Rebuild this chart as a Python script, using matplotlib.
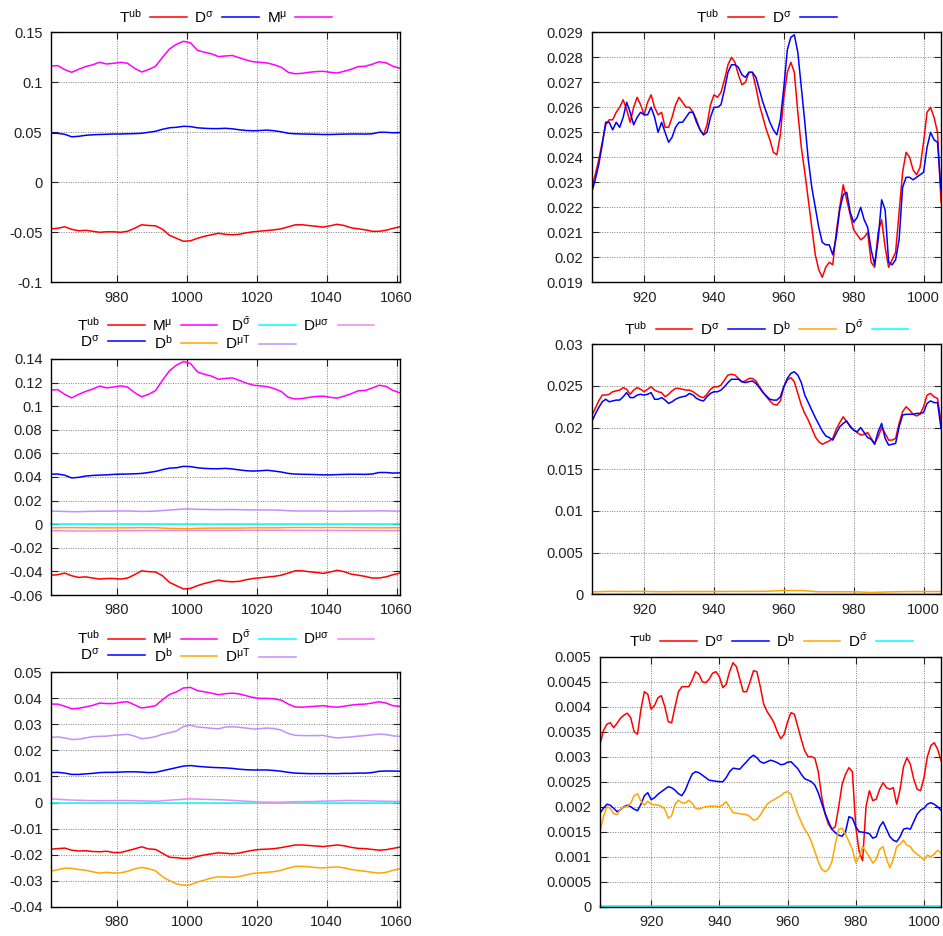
import matplotlib
matplotlib.use('Agg')
import matplotlib.pyplot as plt
from matplotlib.ticker import FuncFormatter

plt.rcParams['font.family'] = ['Liberation Sans', 'DejaVu Sans']
plt.rcParams['mathtext.default'] = 'regular'

# ---------------- data ----------------
X_LEFT = list(range(961, 1062, 2))          # 51 samples
X_LEFT_C = list(range(961, 1062, 5))        # 21 coarse samples
X_RIGHT = list(range(905, 1006))            # 101 samples
X_RIGHT_C = list(range(905, 1006, 5))       # 21 coarse samples

LABELS = {
    'T': r'T$^{ub}$', 'D': r'D$^{σ}$', 'M': r'M$^{μ}$', 'Db': r'D$^{b}$',
    'Dsb': r'D$^{\bar{σ}}$', 'DmT': r'D$^{μT}$', 'Dms': r'D$^{μσ}$',
}
COLORS = {
    'T': '#ff0000', 'D': '#0000ff', 'M': '#ff00ff', 'Db': '#ffa500',
    'Dsb': '#00ffff', 'DmT': '#c090ff', 'Dms': '#ee88ee',
}

# top-left
TL_M = [0.1163, 0.1167, 0.1127, 0.1100, 0.1130, 0.1157, 0.1175, 0.1200, 0.1183, 0.1190,
        0.1200, 0.1190, 0.1140, 0.1103, 0.1127, 0.1160, 0.1250, 0.1333, 0.1380, 0.1410,
        0.1395, 0.1320, 0.1300, 0.1285, 0.1257, 0.1263, 0.1268, 0.1245, 0.1223, 0.1205,
        0.1200, 0.1193, 0.1175, 0.1150, 0.1100, 0.1085, 0.1090, 0.1100, 0.1107, 0.1110,
        0.1100, 0.1093, 0.1110, 0.1130, 0.1157, 0.1160, 0.1180, 0.1205, 0.1195, 0.1160,
        0.1140]
TL_D = [0.0490, 0.0490, 0.0480, 0.0455, 0.0460, 0.0470, 0.0475, 0.0478, 0.0480, 0.0483,
        0.0483, 0.0485, 0.0487, 0.0490, 0.0500, 0.0510, 0.0530, 0.0545, 0.0550, 0.0560,
        0.0557, 0.0545, 0.0540, 0.0537, 0.0537, 0.0540, 0.0535, 0.0525, 0.0518, 0.0515,
        0.0518, 0.0522, 0.0515, 0.0505, 0.0490, 0.0485, 0.0483, 0.0482, 0.0480, 0.0478,
        0.0478, 0.0480, 0.0482, 0.0483, 0.0483, 0.0482, 0.0485, 0.0500, 0.0500, 0.0495,
        0.0497]
TL_T = [-0.0465, -0.0460, -0.0445, -0.0470, -0.0485, -0.0480, -0.0490, -0.0500, -0.0495, -0.0495,
        -0.0500, -0.0490, -0.0460, -0.0425, -0.0432, -0.0435, -0.0470, -0.0530, -0.0560, -0.0590,
        -0.0585, -0.0560, -0.0540, -0.0525, -0.0510, -0.0520, -0.0525, -0.0520, -0.0505, -0.0495,
        -0.0488, -0.0482, -0.0475, -0.0465, -0.0445, -0.0425, -0.0425, -0.0433, -0.0440, -0.0448,
        -0.0435, -0.0420, -0.0432, -0.0455, -0.0465, -0.0475, -0.0490, -0.0490, -0.0480, -0.0460,
        -0.0445]

# middle-left
ML_M = [0.1136, 0.1140, 0.1100, 0.1070, 0.1100, 0.1125, 0.1145, 0.1170, 0.1155, 0.1162,
        0.1172, 0.1162, 0.1115, 0.1080, 0.1100, 0.1132, 0.1220, 0.1300, 0.1348, 0.1378,
        0.1362, 0.1290, 0.1270, 0.1255, 0.1228, 0.1235, 0.1240, 0.1218, 0.1195, 0.1178,
        0.1172, 0.1165, 0.1148, 0.1124, 0.1075, 0.1060, 0.1065, 0.1075, 0.1082, 0.1085,
        0.1075, 0.1068, 0.1085, 0.1105, 0.1130, 0.1133, 0.1153, 0.1177, 0.1168, 0.1133,
        0.1113]
ML_D = [0.0424, 0.0425, 0.0415, 0.0392, 0.0397, 0.0408, 0.0413, 0.0416, 0.0418, 0.0422,
        0.0424, 0.0425, 0.0427, 0.0430, 0.0438, 0.0447, 0.0462, 0.0475, 0.0478, 0.0490,
        0.0488, 0.0478, 0.0473, 0.0470, 0.0470, 0.0473, 0.0468, 0.0460, 0.0453, 0.0450,
        0.0453, 0.0457, 0.0450, 0.0442, 0.0430, 0.0425, 0.0423, 0.0422, 0.0420, 0.0418,
        0.0418, 0.0420, 0.0422, 0.0423, 0.0423, 0.0422, 0.0425, 0.0438, 0.0438, 0.0433,
        0.0435]
ML_T = [-0.0432, -0.0428, -0.0414, -0.0437, -0.0451, -0.0446, -0.0456, -0.0465, -0.0460, -0.0460,
        -0.0465, -0.0456, -0.0428, -0.0395, -0.0402, -0.0405, -0.0437, -0.0493, -0.0521, -0.0549,
        -0.0544, -0.0521, -0.0502, -0.0488, -0.0474, -0.0484, -0.0488, -0.0484, -0.0470, -0.0460,
        -0.0454, -0.0448, -0.0442, -0.0432, -0.0414, -0.0395, -0.0395, -0.0403, -0.0409, -0.0417,
        -0.0405, -0.0391, -0.0402, -0.0423, -0.0432, -0.0442, -0.0456, -0.0456, -0.0446, -0.0428,
        -0.0414]
ML_DMT = [0.0110, 0.0110, 0.0108, 0.0106, 0.0106, 0.0108, 0.0109, 0.0110, 0.0110, 0.0111,
          0.0112, 0.0112, 0.0110, 0.0108, 0.0109, 0.0111, 0.0116, 0.0120, 0.0124, 0.0128,
          0.0129, 0.0126, 0.0125, 0.0124, 0.0123, 0.0124, 0.0124, 0.0123, 0.0122, 0.0121,
          0.0121, 0.0121, 0.0120, 0.0118, 0.0114, 0.0112, 0.0112, 0.0112, 0.0112, 0.0112,
          0.0110, 0.0109, 0.0110, 0.0110, 0.0111, 0.0112, 0.0112, 0.0113, 0.0113, 0.0111,
          0.0111]
ML_DB = [-0.0030, -0.0030, -0.0029, -0.0029, -0.0030, -0.0030, -0.0031, -0.0031, -0.0031, -0.0031,
         -0.0031, -0.0031, -0.0030, -0.0029, -0.0030, -0.0030, -0.0033, -0.0035, -0.0036, -0.0037,
         -0.0037, -0.0035, -0.0034, -0.0033, -0.0033, -0.0033, -0.0033, -0.0033, -0.0032, -0.0031,
         -0.0031, -0.0031, -0.0031, -0.0030, -0.0029, -0.0028, -0.0028, -0.0028, -0.0029, -0.0029,
         -0.0028, -0.0028, -0.0029, -0.0029, -0.0030, -0.0030, -0.0031, -0.0031, -0.0031, -0.0030,
         -0.0030]
ML_DMS = [-0.0054, -0.0057, -0.0058, -0.0057, -0.0056, -0.0055, -0.0055, -0.0054, -0.0053, -0.0053,
          -0.0053, -0.0052, -0.0052, -0.0052, -0.0053, -0.0053, -0.0053, -0.0054, -0.0054, -0.0055,
          -0.0055]
ML_DSB = [0.0, 0.0, 0.0, 0.0, 0.0, 0.0, 0.0, 0.0, 0.0, 0.0,
          0.0, 0.0, 0.0, 0.0, 0.0, 0.0, 0.0, 0.0, 0.0, 0.0, 0.0]

# bottom-left
BL_M = [0.0378, 0.0378, 0.0370, 0.0360, 0.0362, 0.0367, 0.0373, 0.0382, 0.0380, 0.0380,
        0.0385, 0.0387, 0.0375, 0.0363, 0.0367, 0.0372, 0.0395, 0.0415, 0.0425, 0.0440,
        0.0442, 0.0430, 0.0425, 0.0420, 0.0414, 0.0418, 0.0420, 0.0417, 0.0410, 0.0403,
        0.0400, 0.0400, 0.0398, 0.0393, 0.0378, 0.0367, 0.0366, 0.0368, 0.0370, 0.0372,
        0.0368, 0.0366, 0.0370, 0.0374, 0.0377, 0.0378, 0.0382, 0.0387, 0.0382, 0.0372,
        0.0369]
BL_DMT = [0.0250, 0.0252, 0.0248, 0.0242, 0.0243, 0.0248, 0.0253, 0.0254, 0.0255, 0.0258,
          0.0260, 0.0262, 0.0255, 0.0245, 0.0248, 0.0253, 0.0262, 0.0268, 0.0275, 0.0292,
          0.0297, 0.0290, 0.0288, 0.0285, 0.0283, 0.0290, 0.0291, 0.0289, 0.0286, 0.0282,
          0.0284, 0.0286, 0.0284, 0.0278, 0.0265, 0.0258, 0.0257, 0.0257, 0.0257, 0.0258,
          0.0252, 0.0248, 0.0250, 0.0252, 0.0255, 0.0257, 0.0260, 0.0263, 0.0261, 0.0256,
          0.0254]
BL_D = [0.0115, 0.0116, 0.0113, 0.0108, 0.0108, 0.0110, 0.0112, 0.0115, 0.0116, 0.0116,
        0.0117, 0.0118, 0.0118, 0.0117, 0.0115, 0.0116, 0.0122, 0.0128, 0.0134, 0.0140,
        0.0142, 0.0139, 0.0137, 0.0135, 0.0134, 0.0133, 0.0131, 0.0128, 0.0126, 0.0125,
        0.0125, 0.0125, 0.0123, 0.0120, 0.0116, 0.0113, 0.0112, 0.0111, 0.0111, 0.0111,
        0.0111, 0.0111, 0.0112, 0.0112, 0.0113, 0.0113, 0.0115, 0.0120, 0.0121, 0.0121,
        0.0120]
BL_T = [-0.0179, -0.0177, -0.0175, -0.0183, -0.0186, -0.0185, -0.0188, -0.0189, -0.0187, -0.0192,
        -0.0192, -0.0185, -0.0178, -0.0170, -0.0178, -0.0180, -0.0195, -0.0210, -0.0212, -0.0215,
        -0.0214, -0.0207, -0.0201, -0.0197, -0.0193, -0.0195, -0.0197, -0.0194, -0.0188, -0.0183,
        -0.0180, -0.0179, -0.0177, -0.0173, -0.0168, -0.0163, -0.0163, -0.0165, -0.0167, -0.0169,
        -0.0166, -0.0163, -0.0166, -0.0172, -0.0176, -0.0177, -0.0180, -0.0183, -0.0181, -0.0176,
        -0.0171]
BL_DB = [-0.0263, -0.0258, -0.0252, -0.0253, -0.0257, -0.0260, -0.0266, -0.0271, -0.0268, -0.0271,
         -0.0270, -0.0264, -0.0255, -0.0249, -0.0254, -0.0262, -0.0285, -0.0300, -0.0312, -0.0318,
         -0.0316, -0.0305, -0.0298, -0.0290, -0.0285, -0.0286, -0.0287, -0.0284, -0.0278, -0.0272,
         -0.0270, -0.0268, -0.0265, -0.0260, -0.0252, -0.0245, -0.0245, -0.0247, -0.0250, -0.0251,
         -0.0249, -0.0247, -0.0251, -0.0257, -0.0261, -0.0264, -0.0268, -0.0271, -0.0268, -0.0260,
         -0.0254]
BL_DMS = [0.0014, 0.0010, 0.0008, 0.0007, 0.0008, 0.0007, 0.0005, 0.0010, 0.0014, 0.0012,
          0.0010, 0.0006, 0.0002, 0.0001, 0.0003, 0.0004, 0.0006, 0.0008, 0.0007, 0.0005,
          0.0004]
BL_DSB = [0.0, 0.0, 0.0, 0.0, 0.0, 0.0, 0.0, 0.0, 0.0, 0.0,
          0.0, 0.0, 0.0, 0.0, 0.0, 0.0, 0.0, 0.0, 0.0, 0.0, 0.0]

# top-right
TR_T = [0.0228, 0.0233, 0.0239, 0.0246, 0.0253, 0.0255, 0.0255, 0.0258, 0.0260, 0.0263,
        0.0259, 0.0254, 0.0260, 0.0264, 0.0261, 0.0257, 0.0262, 0.0265, 0.0260, 0.0257,
        0.0258, 0.0252, 0.0252, 0.0256, 0.0261, 0.0264, 0.0262, 0.0260, 0.0260, 0.0258,
        0.0255, 0.0251, 0.0249, 0.0253, 0.0261, 0.0265, 0.0264, 0.0266, 0.0271, 0.0277,
        0.0280, 0.0278, 0.0273, 0.0269, 0.0270, 0.0274, 0.0274, 0.0268, 0.0261, 0.0256,
        0.0251, 0.0247, 0.0242, 0.0241, 0.0249, 0.0264, 0.0274, 0.0278, 0.0274, 0.0258,
        0.0244, 0.0234, 0.0223, 0.0212, 0.0201, 0.0195, 0.0192, 0.0196, 0.0198, 0.0197,
        0.0210, 0.0220, 0.0229, 0.0223, 0.0217, 0.0211, 0.0209, 0.0207, 0.0208, 0.0210,
        0.0198, 0.0196, 0.0210, 0.0215, 0.0204, 0.0196, 0.0199, 0.0202, 0.0218, 0.0234,
        0.0242, 0.0240, 0.0235, 0.0233, 0.0236, 0.0246, 0.0258, 0.0260, 0.0256, 0.0250,
        0.0222]
TR_D = [0.0226, 0.0231, 0.0237, 0.0245, 0.0254, 0.0254, 0.0251, 0.0254, 0.0252, 0.0256,
        0.0262, 0.0258, 0.0253, 0.0256, 0.0258, 0.0257, 0.0257, 0.0260, 0.0256, 0.0250,
        0.0254, 0.0250, 0.0246, 0.0248, 0.0252, 0.0254, 0.0254, 0.0256, 0.0258, 0.0258,
        0.0254, 0.0251, 0.0249, 0.0250, 0.0256, 0.0260, 0.0260, 0.0261, 0.0267, 0.0274,
        0.0277, 0.0277, 0.0276, 0.0273, 0.0272, 0.0274, 0.0274, 0.0272, 0.0267, 0.0262,
        0.0258, 0.0254, 0.0251, 0.0249, 0.0255, 0.0268, 0.0283, 0.0288, 0.0289, 0.0282,
        0.0268, 0.0254, 0.0239, 0.0228, 0.0220, 0.0212, 0.0206, 0.0205, 0.0205, 0.0201,
        0.0208, 0.0219, 0.0225, 0.0226, 0.0218, 0.0214, 0.0216, 0.0220, 0.0215, 0.0212,
        0.0203, 0.0197, 0.0207, 0.0223, 0.0219, 0.0198, 0.0197, 0.0199, 0.0207, 0.0228,
        0.0232, 0.0232, 0.0231, 0.0232, 0.0233, 0.0234, 0.0244, 0.0250, 0.0247, 0.0246,
        0.0227]

# middle-right
MR_T = [0.0214, 0.0223, 0.0232, 0.0239, 0.0239, 0.0240, 0.0243, 0.0244, 0.0245, 0.0248,
        0.0246, 0.0240, 0.0245, 0.0248, 0.0246, 0.0243, 0.0246, 0.0249, 0.0245, 0.0243,
        0.0242, 0.0237, 0.0240, 0.0244, 0.0247, 0.0247, 0.0246, 0.0245, 0.0245, 0.0243,
        0.0240, 0.0237, 0.0236, 0.0240, 0.0246, 0.0249, 0.0249, 0.0251, 0.0257, 0.0263,
        0.0264, 0.0263, 0.0259, 0.0255, 0.0256, 0.0259, 0.0259, 0.0256, 0.0249, 0.0243,
        0.0237, 0.0232, 0.0228, 0.0227, 0.0232, 0.0249, 0.0257, 0.0260, 0.0255, 0.0241,
        0.0227, 0.0217, 0.0209, 0.0199, 0.0189, 0.0183, 0.0180, 0.0182, 0.0184, 0.0187,
        0.0198, 0.0206, 0.0213, 0.0207, 0.0202, 0.0197, 0.0194, 0.0191, 0.0192, 0.0194,
        0.0187, 0.0181, 0.0189, 0.0200, 0.0193, 0.0185, 0.0185, 0.0187, 0.0205, 0.0219,
        0.0225, 0.0221, 0.0216, 0.0214, 0.0216, 0.0225, 0.0239, 0.0241, 0.0237, 0.0235,
        0.0207]
MR_D = [0.0207, 0.0216, 0.0224, 0.0231, 0.0234, 0.0231, 0.0232, 0.0233, 0.0233, 0.0237,
        0.0242, 0.0236, 0.0236, 0.0239, 0.0240, 0.0239, 0.0240, 0.0242, 0.0234, 0.0234,
        0.0236, 0.0233, 0.0229, 0.0231, 0.0234, 0.0236, 0.0237, 0.0238, 0.0241, 0.0239,
        0.0235, 0.0233, 0.0232, 0.0237, 0.0241, 0.0243, 0.0243, 0.0245, 0.0249, 0.0254,
        0.0258, 0.0258, 0.0258, 0.0255, 0.0254, 0.0255, 0.0256, 0.0253, 0.0248, 0.0242,
        0.0238, 0.0234, 0.0233, 0.0233, 0.0237, 0.0249, 0.0259, 0.0265, 0.0267, 0.0263,
        0.0254, 0.0239, 0.0230, 0.0221, 0.0212, 0.0204, 0.0196, 0.0190, 0.0188, 0.0185,
        0.0193, 0.0201, 0.0205, 0.0208, 0.0201, 0.0197, 0.0195, 0.0200, 0.0194, 0.0188,
        0.0186, 0.0180, 0.0195, 0.0205, 0.0187, 0.0179, 0.0180, 0.0181, 0.0201, 0.0215,
        0.0216, 0.0216, 0.0216, 0.0217, 0.0217, 0.0218, 0.0229, 0.0232, 0.0230, 0.0230,
        0.0199]
MR_DB = [0.00028, 0.00035, 0.00033, 0.00035, 0.00030, 0.00033, 0.00033, 0.00033, 0.00034, 0.00034,
         0.00036, 0.00045, 0.00045, 0.00030, 0.00030, 0.00030, 0.00022, 0.00028, 0.00032, 0.00033,
         0.00032]
MR_DSB = [0.00002, 0.00002, 0.00002, 0.00002, 0.00002, 0.00002, 0.00002, 0.00002, 0.00002, 0.00002,
          0.00002, 0.00002, 0.00002, 0.00002, 0.00002, 0.00002, 0.00002, 0.00002, 0.00002, 0.00002,
          0.00002]

# bottom-right
BR_T = [0.00325, 0.00352, 0.00365, 0.00368, 0.00358, 0.00367, 0.00377, 0.00383, 0.00387, 0.00378,
        0.00350, 0.00345, 0.00395, 0.00430, 0.00425, 0.00395, 0.00403, 0.00418, 0.00422, 0.00400,
        0.00370, 0.00368, 0.00400, 0.00430, 0.00440, 0.00440, 0.00440, 0.00453, 0.00470, 0.00465,
        0.00450, 0.00448, 0.00455, 0.00467, 0.00470, 0.00460, 0.00438, 0.00445, 0.00470, 0.00488,
        0.00480, 0.00455, 0.00430, 0.00430, 0.00450, 0.00472, 0.00470, 0.00440, 0.00405, 0.00390,
        0.00380, 0.00368, 0.00350, 0.00336, 0.00345, 0.00370, 0.00388, 0.00385, 0.00360, 0.00335,
        0.00312, 0.00300, 0.00300, 0.00297, 0.00270, 0.00220, 0.00185, 0.00165, 0.00155, 0.00160,
        0.00200, 0.00245, 0.00265, 0.00278, 0.00270, 0.00160, 0.00110, 0.00092, 0.00200, 0.00232,
        0.00212, 0.00215, 0.00235, 0.00248, 0.00238, 0.00235, 0.00238, 0.00205, 0.00235, 0.00280,
        0.00298, 0.00285, 0.00255, 0.00235, 0.00232, 0.00258, 0.00300, 0.00322, 0.00328, 0.00315,
        0.00292]
BR_D = [0.00187, 0.00197, 0.00205, 0.00203, 0.00197, 0.00190, 0.00194, 0.00200, 0.00203, 0.00200,
        0.00195, 0.00192, 0.00205, 0.00222, 0.00228, 0.00214, 0.00218, 0.00225, 0.00230, 0.00235,
        0.00240, 0.00238, 0.00233, 0.00226, 0.00222, 0.00233, 0.00250, 0.00265, 0.00270, 0.00268,
        0.00263, 0.00258, 0.00253, 0.00252, 0.00251, 0.00250, 0.00250, 0.00258, 0.00270, 0.00277,
        0.00276, 0.00275, 0.00283, 0.00290, 0.00298, 0.00303, 0.00298, 0.00290, 0.00287, 0.00290,
        0.00293, 0.00291, 0.00288, 0.00284, 0.00285, 0.00289, 0.00290, 0.00283, 0.00276, 0.00265,
        0.00256, 0.00253, 0.00250, 0.00243, 0.00228, 0.00207, 0.00187, 0.00170, 0.00155, 0.00148,
        0.00143, 0.00141, 0.00150, 0.00180, 0.00177, 0.00160, 0.00150, 0.00149, 0.00148, 0.00146,
        0.00137, 0.00140, 0.00160, 0.00170, 0.00155, 0.00140, 0.00133, 0.00130, 0.00140, 0.00155,
        0.00157, 0.00155, 0.00170, 0.00185, 0.00193, 0.00197, 0.00205, 0.00208, 0.00205, 0.00200,
        0.00193]
BR_DB = [0.00150, 0.00180, 0.00200, 0.00197, 0.00186, 0.00184, 0.00195, 0.00199, 0.00201, 0.00207,
         0.00222, 0.00226, 0.00211, 0.00203, 0.00211, 0.00205, 0.00204, 0.00203, 0.00201, 0.00195,
         0.00177, 0.00182, 0.00205, 0.00213, 0.00208, 0.00207, 0.00213, 0.00207, 0.00197, 0.00195,
         0.00198, 0.00200, 0.00201, 0.00201, 0.00201, 0.00200, 0.00204, 0.00210, 0.00199, 0.00188,
         0.00187, 0.00186, 0.00185, 0.00184, 0.00180, 0.00173, 0.00175, 0.00183, 0.00195, 0.00205,
         0.00210, 0.00214, 0.00218, 0.00222, 0.00228, 0.00230, 0.00225, 0.00205, 0.00185, 0.00170,
         0.00155, 0.00145, 0.00130, 0.00110, 0.00090, 0.00075, 0.00070, 0.00075, 0.00090, 0.00125,
         0.00155, 0.00157, 0.00145, 0.00130, 0.00115, 0.00088, 0.00100, 0.00120, 0.00110, 0.00100,
         0.00087, 0.00095, 0.00115, 0.00120, 0.00095, 0.00078, 0.00095, 0.00120, 0.00125, 0.00133,
         0.00123, 0.00120, 0.00110, 0.00105, 0.00100, 0.00093, 0.00103, 0.00100, 0.00105, 0.00113,
         0.00107]
BR_DSB = [0.00002, 0.00002, 0.00002, 0.00002, 0.00002, 0.00002, 0.00002, 0.00002, 0.00002, 0.00002,
          0.00002, 0.00002, 0.00002, 0.00002, 0.00002, 0.00002, 0.00002, 0.00002, 0.00002, 0.00002,
          0.00002]

# ticks
LEFT_XTICKS = [980, 1000, 1020, 1040, 1060]
RIGHT_XTICKS = [920, 940, 960, 980, 1000]
TL_YTICKS = [-0.1, -0.05, 0, 0.05, 0.1, 0.15]
ML_YTICKS = [-0.06, -0.04, -0.02, 0, 0.02, 0.04, 0.06, 0.08, 0.1, 0.12, 0.14]
BL_YTICKS = [-0.04, -0.03, -0.02, -0.01, 0, 0.01, 0.02, 0.03, 0.04, 0.05]
TR_YTICKS = [0.019, 0.02, 0.021, 0.022, 0.023, 0.024, 0.025, 0.026, 0.027, 0.028, 0.029]
MR_YTICKS = [0, 0.005, 0.01, 0.015, 0.02, 0.025, 0.03]
BR_YTICKS = [0, 0.0005, 0.001, 0.0015, 0.002, 0.0025, 0.003, 0.0035, 0.004, 0.0045, 0.005]


# ---------------- drawing ----------------
def fmt(v, _pos):
    if abs(v) < 1e-12:
        return '0'
    return f'{round(v, 8):g}'


def setup(ax, xlim, xticks, yticks):
    ax.set_xlim(*xlim)
    ax.set_ylim(yticks[0], yticks[-1])
    ax.set_xticks(xticks)
    ax.set_yticks(yticks)
    ax.yaxis.set_major_formatter(FuncFormatter(fmt))
    ax.set_axisbelow(True)
    ax.grid(True, color='#808080', linestyle=(0, (1, 1.5)), linewidth=0.7)
    ax.tick_params(direction='in', top=True, right=True, length=5, width=0.8,
                   labelsize=10.5, pad=6, colors='#222222')
    for s in ax.spines.values():
        s.set_linewidth(1.0)


def draw(ax, series, order, ncol, lspacing=0.3):
    handles = {}
    for key, xs, ys in series:
        (ln,) = ax.plot(xs, ys, color=COLORS[key], lw=1.1, clip_on=False if key == 'Dsb' else True,
                        solid_joinstyle='round')
        handles[key] = ln
    ax.legend([handles[k] for k in order], [LABELS[k] for k in order], ncol=ncol,
              loc='lower center', bbox_to_anchor=(0.5, 1.0), frameon=False,
              markerfirst=False, fontsize=11, handlelength=2.4, handletextpad=0.55,
              columnspacing=0.5, labelspacing=lspacing, borderaxespad=0.15, borderpad=0.3)


fig = plt.figure(figsize=(9.43, 9.36), dpi=100)

ax1 = fig.add_axes([0.0538, 0.6984, 0.3704, 0.2671])
setup(ax1, (961, 1061), LEFT_XTICKS, TL_YTICKS)
draw(ax1, [('T', X_LEFT, TL_T), ('D', X_LEFT, TL_D), ('M', X_LEFT, TL_M)],
     ['T', 'D', 'M'], 3)

ax2 = fig.add_axes([0.6275, 0.6984, 0.3704, 0.2671])
setup(ax2, (905, 1005), RIGHT_XTICKS, TR_YTICKS)
draw(ax2, [('T', X_RIGHT, TR_T), ('D', X_RIGHT, TR_D)], ['T', 'D'], 2)

ax3 = fig.add_axes([0.0538, 0.3643, 0.3704, 0.2522])
setup(ax3, (961, 1061), LEFT_XTICKS, ML_YTICKS)
draw(ax3, [('T', X_LEFT, ML_T), ('M', X_LEFT, ML_M), ('Dsb', X_LEFT_C, ML_DSB),
           ('Dms', X_LEFT_C, ML_DMS), ('D', X_LEFT, ML_D), ('Db', X_LEFT, ML_DB),
           ('DmT', X_LEFT, ML_DMT)],
     ['T', 'D', 'M', 'Db', 'Dsb', 'DmT', 'Dms'], 4, lspacing=0.0)

ax4 = fig.add_axes([0.6275, 0.3651, 0.3704, 0.2671])
setup(ax4, (905, 1005), RIGHT_XTICKS, MR_YTICKS)
draw(ax4, [('T', X_RIGHT, MR_T), ('D', X_RIGHT, MR_D), ('Db', X_RIGHT_C, MR_DB),
           ('Dsb', X_RIGHT_C, MR_DSB)], ['T', 'D', 'Db', 'Dsb'], 4)

ax5 = fig.add_axes([0.0538, 0.0313, 0.3704, 0.2504])
setup(ax5, (961, 1061), LEFT_XTICKS, BL_YTICKS)
draw(ax5, [('T', X_LEFT, BL_T), ('M', X_LEFT, BL_M), ('Dsb', X_LEFT_C, BL_DSB),
           ('Dms', X_LEFT_C, BL_DMS), ('D', X_LEFT, BL_D), ('Db', X_LEFT, BL_DB),
           ('DmT', X_LEFT, BL_DMT)],
     ['T', 'D', 'M', 'Db', 'Dsb', 'DmT', 'Dms'], 4, lspacing=0.0)

ax6 = fig.add_axes([0.6363, 0.0313, 0.3616, 0.2671])
setup(ax6, (905, 1005), RIGHT_XTICKS, BR_YTICKS)
draw(ax6, [('T', X_RIGHT, BR_T), ('D', X_RIGHT, BR_D), ('Db', X_RIGHT, BR_DB),
           ('Dsb', X_RIGHT_C, BR_DSB)], ['T', 'D', 'Db', 'Dsb'], 4)

fig.savefig('out.png', dpi=100)
